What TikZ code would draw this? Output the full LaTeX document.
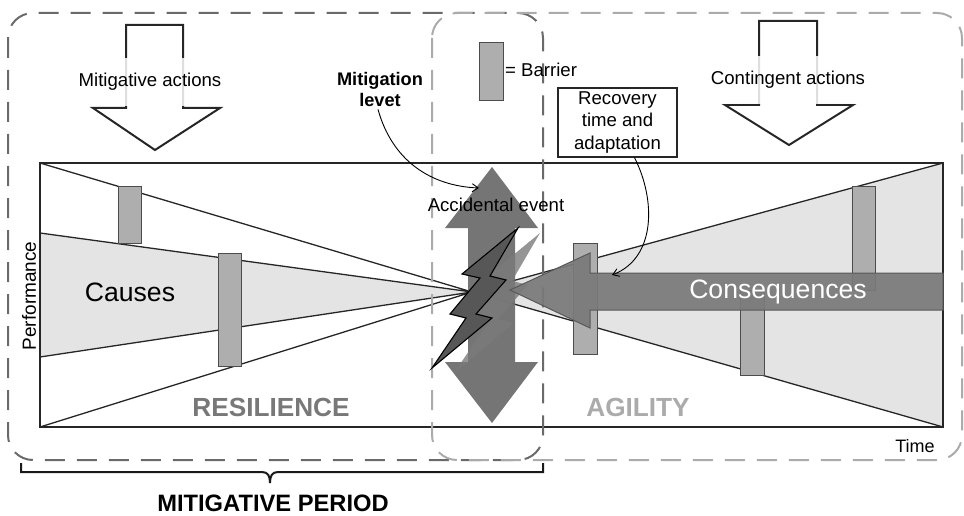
\documentclass[tikz,border=0pt]{standalone}
\usepackage{fontspec}
\setmainfont{Liberation Sans}
\usetikzlibrary{arrows.meta}
\definecolor{shadegray}{HTML}{E4E4E4}
\definecolor{barfill}{HTML}{AEAEAE}
\definecolor{darkdash}{HTML}{6A6A6A}
\definecolor{lightdash}{HTML}{ABABAB}
\definecolor{vertarrow}{HTML}{6E6E6E}
\definecolor{consarrow}{HTML}{7A7A7A}
\begin{document}
\begin{tikzpicture}[x=1pt,y=-1pt,
  chartline/.style={line width=1.3pt, draw=black!85},
  barrierbox/.style={fill=barfill, draw=black!70, line width=1pt},
  dashbox/.style={dash pattern=on 20pt off 12pt, line width=2pt, rounded corners=25pt},
  blockarrow/.style={draw=black!85, line width=2pt, line join=miter},
  lbl/.style={font=\fontsize{18.6}{22.5}\selectfont, inner sep=0pt},
  coverlbl/.style={lbl, fill=white, fill opacity=0.85, text opacity=1, minimum height=48pt},
  bigtxt/.style={font=\fontsize{26.6}{30}\selectfont, inner sep=0pt},
  bigbold/.style={font=\fontsize{26.2}{30}\selectfont\bfseries, inner sep=0pt},
  thinarrow/.style={draw=black, line width=0.9pt, -{Straight Barb[length=6pt,width=8pt]}},
]
\useasboundingbox (0,0) rectangle (964,516);

% chart coordinates
\coordinate (cv) at (472,292);
\coordinate (tl) at (40,163);
\coordinate (tr) at (943,163);
\coordinate (bl) at (40,427);
\coordinate (br) at (943,427);
\coordinate (lu) at (40,233);
\coordinate (ll) at (40,357);

\fill[shadegray] (cv) -- (lu) -- (ll) -- cycle;
\fill[shadegray] (cv) -- (tr) -- (br) -- cycle;
\draw[chartline] (tl) -- (tr) -- (br) -- (bl) -- cycle;
\draw[chartline] (tl) -- (cv) (lu) -- (cv) (ll) -- (cv) (bl) -- (cv);
\draw[chartline] (cv) -- (tr) (cv) -- (br);

% barriers
\draw[barrierbox] (118,186) rectangle (141,243);
\draw[barrierbox] (218,253) rectangle (241,366);
\draw[barrierbox] (573,243) rectangle (597,354);
\draw[barrierbox] (740,290) rectangle (764,375);
\draw[barrierbox] (852,186) rectangle (875,290);

% dashed regions
\draw[dashbox, draw=darkdash] (8,13) rectangle (543,460);
\draw[dashbox, draw=lightdash] (432,13) rectangle (962,460);

% brace
\draw[line width=2pt, draw=black!90] (21,463) -- (21,472) -- (262,472)
  .. controls (268,472) and (270,476) .. (270,483)
  .. controls (270,476) and (272,472) .. (278,472) -- (543,472) -- (543,463);

% block arrows
\draw[blockarrow] (126,108) -- (126,25) -- (183,25) -- (183,108) -- (220,108) -- (155,150) -- (93,108) -- cycle;
\draw[blockarrow] (759,105) -- (759,21) -- (817,21) -- (817,105) -- (853,105) -- (789,145) -- (725,105) -- cycle;
\node[coverlbl] (mitact) at (150,82) {Mitigative actions};
\node[coverlbl] (conact) at (788,80) {Contingent actions};

% vertical double arrow
\fill[vertarrow, opacity=0.95] (492,167) -- (538,228) -- (515,228) -- (515,362) -- (538,362)
  -- (492,423) -- (445,362) -- (468,362) -- (468,228) -- (445,228) -- cycle;

% lightning bolts
\fill[black!52, opacity=0.8] (540,233) -- (484,279) -- (502,283) -- (472,319) -- (488,323)
  -- (454,373) -- (514,323) -- (498,319) -- (528,285) -- (512,281) -- cycle;
\filldraw[fill=black!66, draw=black, line width=1.1pt, line join=miter]
  (518,228) -- (462,274) -- (480,278) -- (450,314) -- (466,318) -- (432,368)
  -- (492,318) -- (476,314) -- (506,280) -- (490,276) -- cycle;

% consequences arrow
\filldraw[fill=consarrow, draw=black!65, line width=1pt, fill opacity=0.93]
  (510,290) -- (590,253) -- (590,273) -- (943,273) -- (943,310) -- (590,310) -- (590,328) -- cycle;

% texts
\node[bigtxt] (causes) at (130,292) {Causes};
\node[bigtxt, text=white] (cons) at (778,292) {Consequences};
\node[bigbold, text=black!53] (resil) at (271,407) {RESILIENCE};
\node[bigbold, text=black!33] (agil) at (638,407) {AGILITY};
\node[font=\fontsize{18}{20}\selectfont, inner sep=0pt] (time) at (915,446) {Time};
\node[font=\fontsize{19}{20}\selectfont, inner sep=0pt, rotate=90] (perf) at (29,296) {Performance};
\node[font=\fontsize{23.7}{26}\selectfont\bfseries, inner sep=0pt] (period) at (273,503) {MITIGATIVE PERIOD};
\node[lbl] (accid) at (496,205) {Accidental event};

% legend
\draw[barrierbox] (479,43) rectangle (503,101);
\node[lbl, anchor=west] (legend) at (505,70) {= Barrier};

% mitigation level label and arrow
\node[font=\fontsize{18.2}{21}\selectfont\bfseries, inner sep=0pt, align=center] (mitlev) at (380,89) {Mitigation\\levet};
\coordinate (mittip) at (479,188);
\draw[thinarrow] (mitlev.south) ++(-2,3) .. controls (392,160) and (430,186) .. (mittip);

% recovery box and arrow
\node[lbl, draw=black!85, line width=1.2pt, align=center, minimum width=119pt, minimum height=69pt] (recbox) at (617.5,122.5) {Recovery\\time and\\adaptation};
\coordinate (rectip) at (612,275);
\draw[thinarrow] (recbox.south) ++(17,0) .. controls (656,200) and (656,258) .. (rectip);

\end{tikzpicture}
\end{document}
